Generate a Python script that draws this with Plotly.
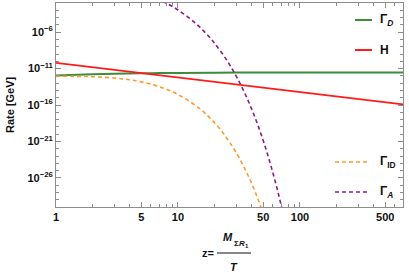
import plotly.graph_objects as go

# ---- data ----
z_D = [1, 1.5, 2, 3, 5, 7, 10, 20, 50, 100, 200, 700]
gamma_D = [1.09e-12, 1.40e-12, 1.63e-12, 1.93e-12, 2.25e-12, 2.42e-12, 2.56e-12,
           2.74e-12, 2.86e-12, 2.91e-12, 2.93e-12, 2.95e-12]

z_H = [1, 700]
hubble = [6.0e-11, 1.22e-16]

z_ID = [1, 1.5, 2, 3, 4, 5, 7, 10, 15, 20, 25, 30, 35, 40, 45, 50]
gamma_ID = [8.6e-13, 8.5e-13, 7.6e-13, 5.1e-13, 2.9e-13, 1.49e-13, 3.28e-14,
            2.75e-15, 3.37e-17, 3.47e-19, 3.26e-21, 2.88e-23, 2.44e-25, 2.01e-27,
            1.61e-29, 1.27e-31]

z_A = [7.5, 8, 9, 10, 12, 14, 16, 18, 20, 25, 30, 35, 40, 45, 50, 55, 60, 65, 70, 75]
gamma_A = [1.69e-2, 9.77e-3, 3.27e-3, 1.10e-3, 1.29e-4, 1.55e-5, 1.88e-6, 2.32e-7,
           2.88e-8, 1.62e-10, 9.44e-13, 5.62e-15, 3.40e-17, 2.09e-19, 1.29e-21,
           8.07e-24, 5.08e-26, 3.21e-28, 2.04e-30, 1.30e-32]

x_ticks = [1, 5, 10, 50, 100, 500]
x_minor = [2, 3, 4, 6, 7, 8, 9, 20, 30, 40, 60, 70, 80, 90, 200, 300, 400, 600, 700]
y_major_exp = [-26, -21, -16, -11, -6]
y_minor_exp = [e for e in range(-30, -1) if e not in y_major_exp]

GREEN = "#3c8c3c"
RED = "#ff1a1a"
ORANGE = "#ff9a2e"
PURPLE = "#8b1a8b"
FONT = "Liberation Sans"

W, H = 409, 273
L, R, T, B = 56, 6, 3, 66
PW, PH = W - L - R, H - T - B


def px(x):
    return (x - L) / PW


def py(y):
    return (T + PH - y) / PH


fig = go.Figure()
fig.add_trace(go.Scatter(x=z_D, y=gamma_D, mode="lines", line=dict(color=GREEN, width=2, shape="spline"), showlegend=False))
fig.add_trace(go.Scatter(x=z_H, y=hubble, mode="lines", line=dict(color=RED, width=1.6), showlegend=False))
fig.add_trace(go.Scatter(x=z_ID, y=gamma_ID, mode="lines", line=dict(color=ORANGE, width=1.6, dash="4px,3px", shape="spline"), showlegend=False))
fig.add_trace(go.Scatter(x=z_A, y=gamma_A, mode="lines", line=dict(color=PURPLE, width=1.6, dash="4px,3px", shape="spline"), showlegend=False))

axis_common = dict(
    showline=True, linecolor="#8c8c8c", linewidth=1, mirror="allticks",
    ticks="inside", tickcolor="#8c8c8c", tickwidth=1, ticklen=5,
    showgrid=False, zeroline=False, automargin=False,
    tickfont=dict(family=FONT, size=11, color="#111111"),
)

fig.update_xaxes(
    type="log", range=[0, 2.845], tickmode="array", tickvals=x_ticks,
    ticktext=[f"<b>{v}</b>" for v in x_ticks],
    minor=dict(tickmode="array", tickvals=x_minor, ticks="inside", ticklen=3, tickcolor="#8c8c8c", showgrid=False),
    **axis_common,
)
fig.update_yaxes(
    type="log", range=[-30, -2], tickmode="array",
    tickvals=[10.0 ** e for e in y_major_exp],
    ticktext=[f"<b>10<sup>\u2212{-e}</sup></b>" for e in y_major_exp],
    minor=dict(tickmode="array", tickvals=[10.0 ** e for e in y_minor_exp], ticks="inside", ticklen=3, tickcolor="#8c8c8c", showgrid=False),
    **axis_common,
)

ann = []
shapes = []


def text(x, y, s, size=11, xanchor="center", yanchor="middle", angle=0):
    ann.append(dict(x=px(x), y=py(y), xref="paper", yref="paper", text=s, showarrow=False,
                    xanchor=xanchor, yanchor=yanchor, textangle=angle,
                    font=dict(family=FONT, size=size, color="#111111")))


# y title
text(10, 105, "<b>Rate [GeV]</b>", size=11, angle=-90)

# x title as a fraction
text(216, 253, "<b>z=</b>", size=11, xanchor="right")
shapes.append(dict(type="line", xref="paper", yref="paper", x0=px(217), x1=px(251), y0=py(253), y1=py(253),
                   line=dict(color="#111111", width=1)))
text(228, 237, "<b><i>M</i></b>", size=11)
text(236.5, 243, "<b>\u03a3</b>", size=8)
text(242, 243, "<b><i>R</i></b>", size=8)
text(246.5, 246, "<b>1</b>", size=6)
text(234, 267, "<b><i>T</i></b>", size=11)

# legend (drawn manually)
legend_items = [
    (20, GREEN, None, 355, 372, "<b>\u0393</b><sub><b><i>D</i></b></sub>"),
    (50, RED, None, 355, 372, "<b>H</b>"),
    (162, ORANGE, "4px,3px", 335, 368, "<b>\u0393</b><sub><b>ID</b></sub>"),
    (192, PURPLE, "4px,3px", 335, 368, "<b>\u0393</b><sub><b><i>A</i></b></sub>"),
]
for y, col, dash, x0, x1, lab in legend_items:
    ln = dict(color=col, width=2 if dash is None else 1.6)
    if dash:
        ln["dash"] = dash
    shapes.append(dict(type="line", xref="paper", yref="paper", x0=px(x0), x1=px(x1), y0=py(y), y1=py(y), line=ln))
    text(378, y, lab, size=12, xanchor="left")

fig.update_layout(
    width=W, height=H, margin=dict(l=L, r=R, t=T, b=B, autoexpand=False),
    paper_bgcolor="white", plot_bgcolor="white",
    annotations=ann, shapes=shapes, showlegend=False,
)

fig.write_html("out.html", config={"displayModeBar": False},
               post_script="document.body.style.margin='0';document.body.style.overflow='hidden';")
